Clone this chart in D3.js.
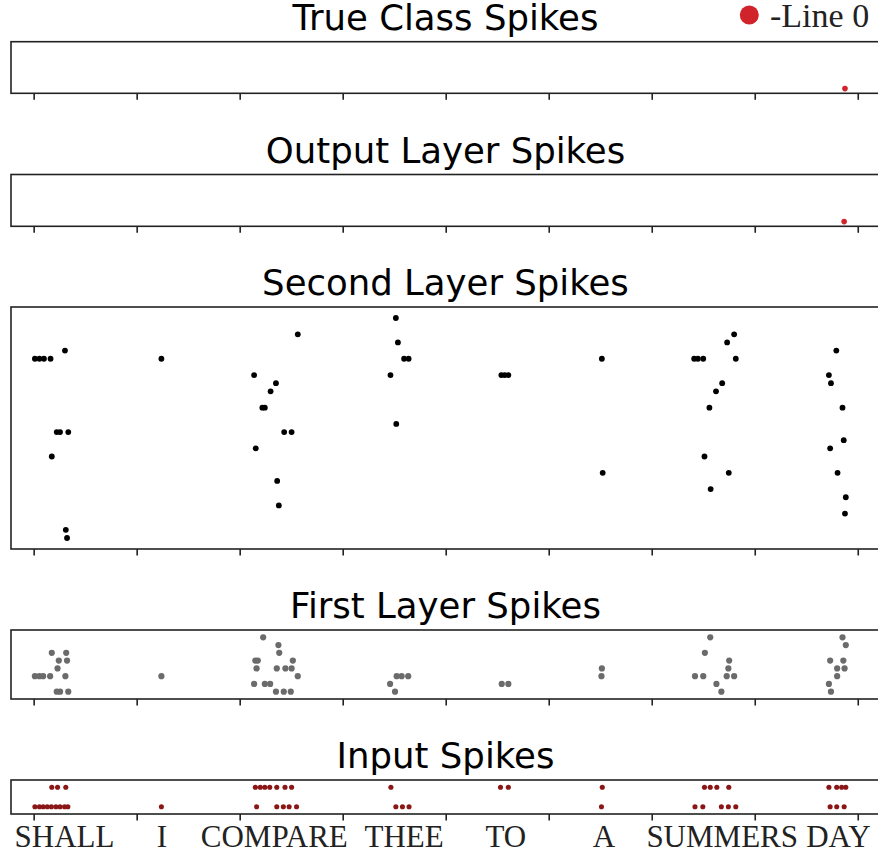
<!DOCTYPE html>
<html>
<head>
<meta charset="utf-8">
<script src="https://cdn.jsdelivr.net/npm/d3@7"></script>
<style>
  html, body { margin: 0; padding: 0; background: #fff; }
  svg { display: block; }
</style>
</head>
<body>
<svg id="chart" width="878" height="855"></svg>
<script>
// ---------------- data ----------------
const words = ["SHALL", "I", "COMPARE", "THEE", "TO", "A", "SUMMERS", "DAY"];
const wordTimes = [7.5, 31.1, 58.4, 89.9, 114.6, 138.4, 167.1, 195.3];
const xTicks = [0, 25, 50, 75, 100, 125, 150, 175, 200];

const panelTitles = ["True Class Spikes", "Output Layer Spikes", "Second Layer Spikes", "First Layer Spikes", "Input Spikes"];
const legendLabel = "-Line 0";

// [time, neuron]
const trueClassSpikes = [[196.9, 0]];
const outputSpikes = [[196.7, 0]];

const secondLayerSpikes = [
  [0.3, 22], [1.4, 22], [2.5, 22], [4.1, 22], [7.6, 23],
  [5.6, 13], [6.4, 13], [8.4, 13], [4.4, 10], [7.8, 1], [8.1, 0],
  [31.0, 22],
  [64.1, 25], [53.5, 20], [58.8, 19], [57.5, 18], [55.5, 16], [56.1, 16],
  [60.8, 13], [62.6, 13], [53.9, 11], [59.1, 7], [59.5, 4],
  [87.9, 27], [88.4, 24], [89.9, 22], [91.0, 22], [86.6, 20], [88.0, 14],
  [113.5, 20], [114.3, 20], [115.2, 20],
  [137.9, 22], [138.1, 8],
  [160.3, 22], [161.2, 22], [162.5, 22], [168.3, 24], [170.0, 25], [170.4, 22],
  [167.1, 19], [165.6, 18], [164.0, 16], [162.8, 10], [168.7, 8], [164.3, 6],
  [194.8, 23], [193.0, 20], [193.5, 19], [196.3, 16], [196.6, 12], [193.3, 11],
  [195.1, 8], [197.1, 5], [196.9, 3]
];

const firstLayerSpikes = [
  [4.4, 5], [7.9, 5], [6.1, 4], [8.1, 4], [5.8, 3],
  [0.3, 2], [1.4, 2], [2.3, 2], [4.0, 2], [7.7, 2],
  [5.6, 0], [6.4, 0], [8.4, 0],
  [31.0, 2],
  [55.7, 7], [59.4, 6], [59.6, 5], [53.8, 4], [54.4, 4], [62.9, 4],
  [54.1, 3], [59.0, 3], [61.1, 3], [62.6, 3], [64.1, 2],
  [53.5, 1], [56.1, 1], [57.4, 1], [58.8, 0], [60.7, 0], [62.4, 0],
  [88.1, 2], [89.3, 2], [90.9, 2], [86.5, 1], [87.7, 0],
  [113.6, 1], [115.2, 1],
  [137.9, 3], [137.8, 2],
  [164.2, 7], [162.9, 5], [168.8, 4], [168.6, 3],
  [160.5, 2], [162.5, 2], [168.2, 2], [170.0, 2], [165.7, 1], [166.9, 0],
  [196.3, 7], [197.1, 6], [193.3, 4], [196.5, 4], [195.0, 3], [196.8, 3],
  [195.0, 2], [193.0, 1], [193.5, 0]
];

const inputSpikes = [
  [4.4, 1], [5.8, 1], [7.8, 1],
  [0.3, 0], [1.4, 0], [2.3, 0], [3.3, 0], [4.3, 0], [5.4, 0], [6.4, 0], [7.5, 0], [8.3, 0],
  [31.0, 0],
  [53.8, 1], [55.0, 1], [56.1, 1], [57.3, 1], [59.0, 1], [61.0, 1], [62.6, 1],
  [54.1, 0], [59.0, 0], [60.6, 0], [62.0, 0], [63.8, 0],
  [86.7, 1], [87.9, 0], [89.5, 0], [91.1, 0],
  [113.3, 1], [115.2, 1],
  [138.0, 1], [137.8, 0],
  [162.8, 1], [164.2, 1], [165.8, 1], [168.7, 1],
  [160.5, 0], [162.4, 0], [166.9, 0], [168.6, 0], [170.4, 0],
  [193.0, 1], [194.9, 1], [196.1, 1], [197.1, 1],
  [193.3, 0], [194.9, 0], [196.7, 0]
];

// ---------------- layout ----------------
const svg = d3.select("#chart");
const x = d3.scaleLinear().domain([-5.5, 205.4]).range([11, 880]);

const panels = [
  { title: panelTitles[0], data: trueClassSpikes,   top: 41.7,  bottom: 93.3,  domain: [-0.1, 1],       color: "#d0242a", r: 2.8 },
  { title: panelTitles[1], data: outputSpikes,      top: 174.5, bottom: 226.3, domain: [-0.1, 1],       color: "#d0242a", r: 2.8 },
  { title: panelTitles[2], data: secondLayerSpikes, top: 307,   bottom: 549,   domain: [-1.35, 28.35],  color: "#000000", r: 2.9 },
  { title: panelTitles[3], data: firstLayerSpikes,  top: 630,   bottom: 699,   domain: [-0.94, 7.94],   color: "#6b6b6b", r: 3.1 },
  { title: panelTitles[4], data: inputSpikes,       top: 780,   bottom: 814,   domain: [-0.37, 1.37],   color: "#8b1616", r: 2.55 }
];

panels.forEach(p => {
  const y = d3.scaleLinear().domain(p.domain).range([p.bottom, p.top]);
  const g = svg.append("g");

  // title
  g.append("text")
    .attr("x", (x.range()[0] + x.range()[1]) / 2)
    .attr("y", p.top - 12)
    .attr("text-anchor", "middle")
    .attr("font-family", "DejaVu Sans, sans-serif")
    .attr("font-size", 35.5)
    .attr("fill", "#000")
    .text(p.title);

  // points
  g.append("g").selectAll("circle")
    .data(p.data)
    .join("circle")
    .attr("cx", d => x(d[0]))
    .attr("cy", d => y(d[1]))
    .attr("r", p.r)
    .attr("fill", p.color);

  // x axis ticks (no labels)
  const axis = d3.axisBottom(x).tickValues(xTicks).tickSize(6.5).tickFormat("");
  const ax = g.append("g").attr("transform", `translate(0,${p.bottom})`).call(axis);
  ax.select(".domain").remove();
  ax.selectAll(".tick line").attr("stroke", "#222").attr("stroke-width", 1.6);

  // frame
  g.append("rect")
    .attr("x", x.range()[0])
    .attr("y", p.top)
    .attr("width", x.range()[1] - x.range()[0])
    .attr("height", p.bottom - p.top)
    .attr("fill", "none")
    .attr("stroke", "#222")
    .attr("stroke-width", 1.6);
});

// word labels
svg.append("g").selectAll("text")
  .data(words)
  .join("text")
  .attr("x", (d, i) => x(wordTimes[i]))
  .attr("y", 847)
  .attr("text-anchor", "middle")
  .attr("font-family", "Liberation Serif, Times New Roman, serif")
  .attr("font-size", 31)
  .attr("fill", "#222")
  .text(d => d);

// legend
const leg = svg.append("g");
leg.append("circle").attr("cx", 749.3).attr("cy", 15).attr("r", 9.5).attr("fill", "#d0242a");
leg.append("text")
  .attr("x", 770)
  .attr("y", 26.5)
  .attr("font-family", "Liberation Serif, Times New Roman, serif")
  .attr("font-size", 34)
  .attr("fill", "#222")
  .text(legendLabel);
</script>
</body>
</html>
